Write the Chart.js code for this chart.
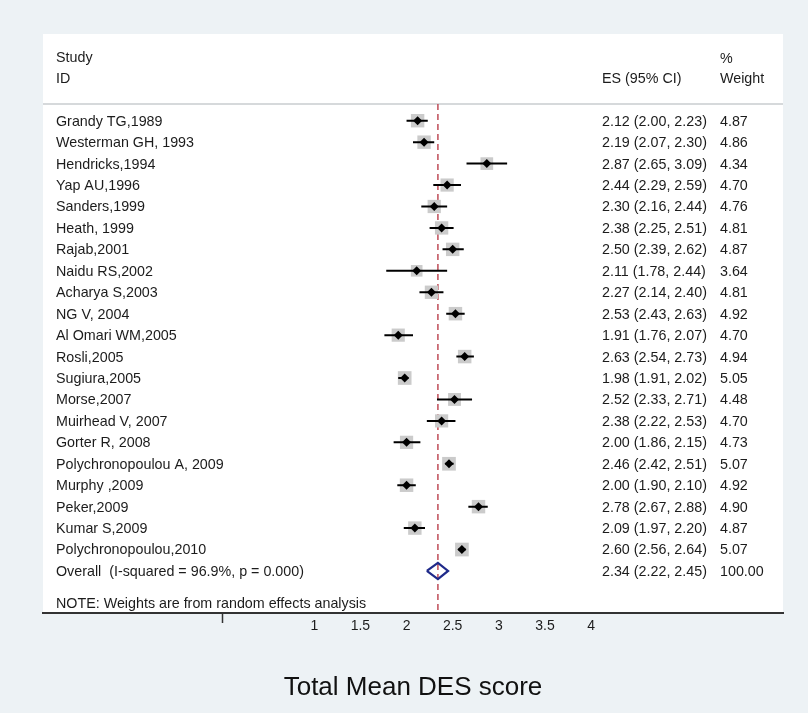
<!DOCTYPE html>
<html>
<head>
<meta charset="utf-8">
<title>Total Mean DES score</title>
<script src="https://cdn.jsdelivr.net/npm/chart.js@4.4.1/dist/chart.umd.min.js"></script>
<style>
  html, body { margin: 0; padding: 0; background: #edf2f5; }
  #wrap { width: 808px; height: 713px; }
</style>
</head>
<body>
<div id="wrap"><canvas id="forest" width="808" height="713"></canvas></div>
<script>
const studies = [
  "Grandy TG,1989", "Westerman GH, 1993", "Hendricks,1994", "Yap AU,1996",
  "Sanders,1999", "Heath, 1999", "Rajab,2001", "Naidu RS,2002",
  "Acharya S,2003", "NG V, 2004", "Al Omari WM,2005", "Rosli,2005",
  "Sugiura,2005", "Morse,2007", "Muirhead V, 2007", "Gorter R, 2008",
  "Polychronopoulou A, 2009", "Murphy ,2009", "Peker,2009", "Kumar S,2009",
  "Polychronopoulou,2010"
];
const es    = [2.12, 2.19, 2.87, 2.44, 2.30, 2.38, 2.50, 2.11, 2.27, 2.53, 1.91, 2.63, 1.98, 2.52, 2.38, 2.00, 2.46, 2.00, 2.78, 2.09, 2.60];
const ciLow = [2.00, 2.07, 2.65, 2.29, 2.16, 2.25, 2.39, 1.78, 2.14, 2.43, 1.76, 2.54, 1.91, 2.33, 2.22, 1.86, 2.42, 1.90, 2.67, 1.97, 2.56];
const ciHigh= [2.23, 2.30, 3.09, 2.59, 2.44, 2.51, 2.62, 2.44, 2.40, 2.63, 2.07, 2.73, 2.02, 2.71, 2.53, 2.15, 2.51, 2.10, 2.88, 2.20, 2.64];
const weights = [4.87, 4.86, 4.34, 4.70, 4.76, 4.81, 4.87, 3.64, 4.81, 4.92, 4.70, 4.94, 5.05, 4.48, 4.70, 4.73, 5.07, 4.92, 4.90, 4.87, 5.07];

const overallLabel = "Overall  (I-squared = 96.9%, p = 0.000)";
const overall = { es: 2.34, low: 2.22, high: 2.45, weight: 100.00 };
const noteText = "NOTE: Weights are from random effects analysis";
const xTicks = [0, 1, 1.5, 2, 2.5, 3, 3.5, 4];
const xTitle = "Total Mean DES score";

const FONT = "'Liberation Sans', Arial, Helvetica, sans-serif";
const TXT = 14.3;
const overallRow = studies.length;
const diamondHalf = 0.38;

// CI whiskers as one broken line
const ciPoints = [];
studies.forEach((_, i) => {
  ciPoints.push({ x: ciLow[i], y: i }, { x: ciHigh[i], y: i }, { x: ciHigh[i], y: null });
});

const estPoints = es.map((v, i) => ({ x: v, y: i }));

const diamond = [
  { x: overall.low, y: overallRow },
  { x: overall.es, y: overallRow - diamondHalf },
  { x: overall.high, y: overallRow },
  { x: overall.es, y: overallRow + diamondHalf },
  { x: overall.low, y: overallRow }
];

const yMin = -0.78, yMax = 22.96;

const panel = {
  id: "panel",
  beforeDraw(chart) {
    const { ctx, chartArea: a } = chart;
    ctx.save();
    ctx.fillStyle = "#edf2f5";
    ctx.fillRect(0, 0, chart.width, chart.height);
    ctx.fillStyle = "#ffffff";
    ctx.fillRect(a.left, a.top - 70, a.right - a.left, a.bottom - a.top + 70);
    ctx.strokeStyle = "#d6d9db";
    ctx.lineWidth = 2;
    ctx.beginPath();
    ctx.moveTo(a.left, a.top);
    ctx.lineTo(a.right, a.top);
    ctx.stroke();
    ctx.restore();
  },
  afterDatasetsDraw(chart) {
    const { ctx, chartArea: a, scales } = chart;
    const y = scales.y;
    const xLabel = a.left + 13, xEs = 602, xW = 720;
    ctx.save();
    ctx.fillStyle = "#1c1c1c";
    ctx.font = TXT + "px " + FONT;
    ctx.textBaseline = "middle";
    ctx.textAlign = "left";
    ctx.fillText("Study", xLabel, a.top - 46);
    ctx.fillText("ID", xLabel, a.top - 25);
    ctx.fillText("%", xW, a.top - 45);
    ctx.fillText("Weight", xW, a.top - 25);
    ctx.fillText("ES (95% CI)", xEs, a.top - 25);
    studies.forEach((s, i) => {
      const py = y.getPixelForValue(i) + 1;
      ctx.fillText(s, xLabel, py);
      ctx.fillText(`${es[i].toFixed(2)} (${ciLow[i].toFixed(2)}, ${ciHigh[i].toFixed(2)})`, xEs, py);
      ctx.fillText(weights[i].toFixed(2), xW, py);
    });
    const oy = y.getPixelForValue(overallRow) + 1;
    ctx.fillText(overallLabel, xLabel, oy);
    ctx.fillText(`${overall.es.toFixed(2)} (${overall.low.toFixed(2)}, ${overall.high.toFixed(2)})`, xEs, oy);
    ctx.fillText(overall.weight.toFixed(2), xW, oy);
    ctx.fillText(noteText, xLabel, a.bottom - 9);
    ctx.restore();
  }
};

new Chart(document.getElementById("forest"), {
  type: "scatter",
  data: {
    datasets: [
      {
        type: "line",
        data: [{ x: overall.es, y: yMin }, { x: overall.es, y: yMax }],
        borderColor: "#bf4d58",
        borderWidth: 1.5,
        borderDash: [6, 4],
        pointRadius: 0,
        order: 4
      },
      {
        data: estPoints,
        pointStyle: "rect",
        pointRadius: ctx => 4.3 * Math.sqrt(weights[ctx.dataIndex] || 0),
        backgroundColor: "#cbcbcb",
        borderWidth: 0,
        order: 3
      },
      {
        type: "line",
        data: ciPoints,
        borderColor: "#000000",
        borderWidth: 2,
        pointRadius: 0,
        spanGaps: false,
        order: 2
      },
      {
        data: estPoints,
        pointStyle: "rectRot",
        pointRadius: 4.5,
        backgroundColor: "#000000",
        borderWidth: 0,
        order: 1
      },
      {
        type: "line",
        data: diamond,
        borderColor: "#1f2a8a",
        borderWidth: 2.2,
        pointRadius: 0,
        order: 0
      }
    ]
  },
  options: {
    responsive: false,
    animation: false,
    layout: { padding: { left: 43, right: 25, top: 104, bottom: 0 } },
    plugins: { legend: { display: false }, tooltip: { enabled: false } },
    scales: {
      x: {
        type: "linear",
        min: -1.94,
        max: 6.08,
        afterBuildTicks: axis => { axis.ticks = xTicks.map(v => ({ value: v })); },
        ticks: {
          padding: -5,
          color: "#1c1c1c",
          font: { size: 14, family: FONT },
          callback: v => (v === 0 ? "" : String(v))
        },
        grid: {
          drawOnChartArea: false,
          tickLength: 10,
          tickWidth: 1.5,
          tickColor: ctx => (ctx.tick && ctx.tick.value === 0 ? "#333333" : "rgba(0,0,0,0)")
        },
        border: { color: "#333333", width: 2 },
        title: {
          display: true,
          text: xTitle,
          color: "#111111",
          font: { size: 26, family: FONT },
          padding: { top: 42.6, bottom: 9.4 }
        }
      },
      y: {
        type: "linear",
        display: false,
        reverse: true,
        min: yMin,
        max: yMax
      }
    }
  },
  plugins: [panel]
});
</script>
</body>
</html>
